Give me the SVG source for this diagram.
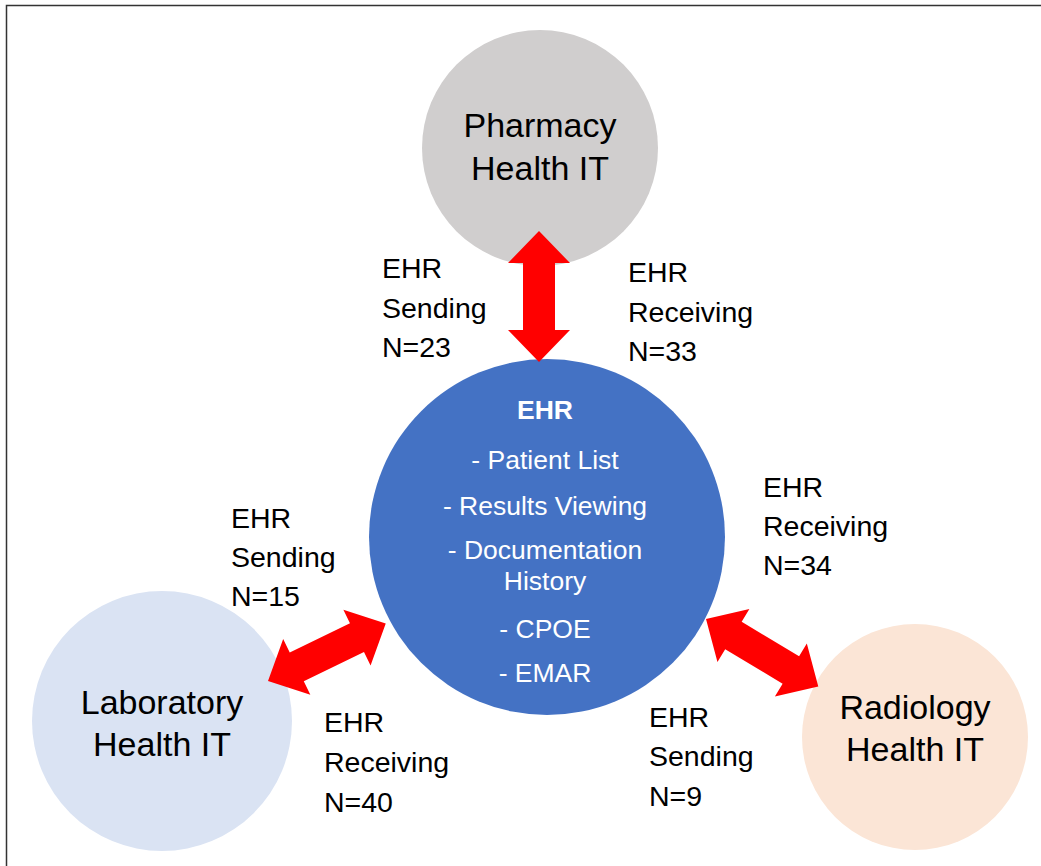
<svg xmlns="http://www.w3.org/2000/svg" width="1041" height="866" viewBox="0 0 1041 866">
<style>
.lbl{font-family:"Liberation Sans",Arial,sans-serif;font-size:28.5px;fill:#000}
.node{font-family:"Liberation Sans",Arial,sans-serif;font-size:34px;fill:#000;text-anchor:middle}
.ehr{font-family:"Liberation Sans",Arial,sans-serif;font-size:26.5px;fill:#fff;text-anchor:middle}
.arrow{fill:#ff0000}
</style>
<defs>
<path id="dbl" d="M0,0 L32,-31 L32,-16 L99,-16 L99,-31 L131,0 L99,31 L99,16 L32,16 L32,31 Z"/>
</defs>
<rect x="0" y="0" width="1041" height="866" fill="#fff"/>
<path d="M6.5,866 L6.5,5.5 L1041,5.5" fill="none" stroke="#333" stroke-width="1.5"/>
<g id="pharmacy">
<circle cx="540" cy="148" r="118" fill="#d0cece"/>
<text class="node" x="540" y="137">Pharmacy</text>
<text class="node" x="540" y="180">Health IT</text>
</g>
<g id="ehr">
<circle cx="547" cy="537" r="178" fill="#4472c4"/>
<text class="ehr" x="545" y="419" font-weight="bold" font-size="32">EHR</text>
<text class="ehr" x="545" y="469">- Patient List</text>
<text class="ehr" x="545" y="515">- Results Viewing</text>
<text class="ehr" x="545" y="559">- Documentation</text>
<text class="ehr" x="545" y="590">History</text>
<text class="ehr" x="545" y="638">- CPOE</text>
<text class="ehr" x="545" y="682">- EMAR</text>
</g>
<g id="laboratory">
<circle cx="162" cy="721" r="130" fill="#dae3f3"/>
<text class="node" x="162" y="714">Laboratory</text>
<text class="node" x="162" y="756">Health IT</text>
</g>
<g id="radiology">
<circle cx="915" cy="737" r="113" fill="#fbe5d6"/>
<text class="node" x="915" y="719">Radiology</text>
<text class="node" x="915" y="761">Health IT</text>
</g>
<g id="connectors">
<use href="#dbl" class="arrow" transform="translate(539,231) rotate(90)"/>
<use href="#dbl" class="arrow" transform="translate(268,681) rotate(-26)"/>
<use href="#dbl" class="arrow" transform="translate(706,619) rotate(31)"/>
</g>
<g id="labels">
<text class="lbl" x="382" y="278">EHR</text>
<text class="lbl" x="382" y="318">Sending</text>
<text class="lbl" x="382" y="357">N=23</text>
<text class="lbl" x="628" y="282">EHR</text>
<text class="lbl" x="628" y="322">Receiving</text>
<text class="lbl" x="628" y="361">N=33</text>
<text class="lbl" x="763" y="497">EHR</text>
<text class="lbl" x="763" y="536">Receiving</text>
<text class="lbl" x="763" y="575">N=34</text>
<text class="lbl" x="231" y="528">EHR</text>
<text class="lbl" x="231" y="567">Sending</text>
<text class="lbl" x="231" y="606">N=15</text>
<text class="lbl" x="324" y="732">EHR</text>
<text class="lbl" x="324" y="772">Receiving</text>
<text class="lbl" x="324" y="812">N=40</text>
<text class="lbl" x="649" y="727">EHR</text>
<text class="lbl" x="649" y="766">Sending</text>
<text class="lbl" x="649" y="806">N=9</text>
</g>
</svg>
